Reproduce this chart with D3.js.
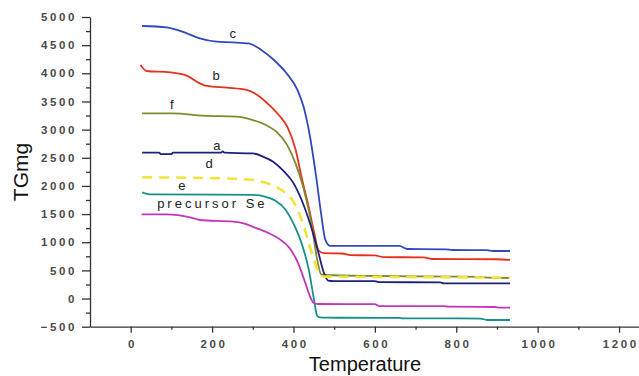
<!DOCTYPE html>
<html>
<head>
<meta charset="utf-8">
<script src="https://cdn.jsdelivr.net/npm/d3@7"></script>
<style>
  body { margin: 0; background: #fff; }
  svg { display: block; font-family: Arial, "Liberation Sans", sans-serif; }
  .tick text { font-weight: bold; fill: #4a4a4a; font-size: 11.5px; letter-spacing: 2.6px; }
  .axis path, .axis line { stroke: #333; stroke-width: 1.3; }
</style>
</head>
<body>
<svg id="chart" width="639" height="376"></svg>
<script>
// TG curves, [temperature, TG] pairs
var curveC = [[28,4840],[88,4817],[138,4710],[170,4620],[211,4562],[250,4550],[290,4530],[320,4420],[350,4250],[383,4000],[410,3700],[425,3400],[440,2900],[455,2200],[468,1500],[478,1050],[490,935],[660,935],[680,880],[775,875],[790,862],[875,860],[890,844],[932,844]];
var curveB = [[24,4147],[39,4041],[97,4018],[138,3958],[170,3822],[187,3775],[236,3744],[285,3704],[310,3620],[340,3440],[365,3250],[385,3050],[405,2650],[420,2150],[435,1700],[450,1200],[462,850],[475,805],[520,800],[540,772],[600,765],[620,737],[720,730],[740,702],[900,698],[932,686]];
var curveF = [[28,3290],[104,3290],[178,3247],[260,3230],[300,3170],[330,3090],[360,2950],[385,2720],[405,2400],[425,1950],[445,1300],[458,700],[468,430],[480,418],[600,400],[700,392],[860,385],[880,370],[932,365]];
var curveA = [[28,2590],[70,2590],[74,2565],[100,2565],[104,2590],[222,2590],[226,2615],[230,2590],[300,2578],[325,2520],[350,2430],[375,2270],[400,2050],[420,1750],[440,1350],[460,850],[475,450],[485,320],[500,311],[600,311],[610,290],[760,288],[770,270],[932,270]];
var curveD = [[28,2153],[220,2135],[300,2105],[330,2060],[355,1990],[380,1880],[400,1720],[420,1400],[437,1000],[452,650],[465,430],[475,390],[600,385],[932,372]];
var curveE = [[28,1887],[50,1850],[300,1840],[330,1810],[355,1740],[380,1580],[400,1330],[420,980],[438,500],[450,0],[458,-300],[465,-335],[480,-340],[660,-345],[670,-351],[860,-355],[875,-381],[932,-381]];
var curveP = [[27,1496],[88,1496],[146,1443],[170,1395],[252,1365],[280,1330],[310,1247],[340,1160],[365,1060],[390,900],[410,650],[428,300],[440,50],[450,-80],[460,-97],[600,-100],[610,-133],[770,-135],[780,-145],[895,-150],[905,-163],[932,-163]];

var seriesNames = ["c", "b", "f", "a", "d", "e", "precursor Se"];
var seriesColors = ["#3448bd", "#e8301e", "#7f8a2e", "#1f2078", "#f2e33a", "#17908a", "#c236b8"];
var seriesData = [curveC, curveB, curveF, curveA, curveD, curveE, curveP];
var labelPos = [[251,4716],[210,3970],[101,3455],[212,2727],[193,2407],[126,2016],[65,1697]];

var xTicks = [0, 200, 400, 600, 800, 1000, 1200];
var yTicks = [-500, 0, 500, 1000, 1500, 2000, 2500, 3000, 3500, 4000, 4500, 5000];

var svg = d3.select("#chart");
var x = d3.scaleLinear().domain([-100, 1250]).range([90, 639.4]);
var y = d3.scaleLinear().domain([-500, 5000]).range([326.7, 17]);

// minor ticks
svg.append("g").attr("class", "axis").attr("transform", "translate(" + x(-100) + ",0)")
  .call(d3.axisLeft(y).tickValues(d3.range(-250, 5000, 500)).tickSize(4).tickFormat(""))
  .select(".domain").remove();
svg.append("g").attr("class", "axis").attr("transform", "translate(0," + y(-500) + ")")
  .call(d3.axisBottom(x).tickValues(d3.range(100, 1300, 200)).tickSize(3).tickFormat(""))
  .select(".domain").remove();

svg.append("g").attr("class", "axis").attr("transform", "translate(" + x(-100) + ",0)")
  .call(d3.axisLeft(y).tickValues(yTicks).tickSize(8).tickSizeOuter(0).tickPadding(5).tickFormat(d3.format("d")));
svg.append("g").attr("class", "axis").attr("transform", "translate(0," + y(-500) + ")")
  .call(d3.axisBottom(x).tickValues(xTicks).tickSize(6).tickSizeOuter(0).tickPadding(7).tickFormat(d3.format("d")))
  .selectAll("text").attr("dx", "1.3px");

var line = d3.line()
  .x(function(d) { return x(d[0]); })
  .y(function(d) { return y(d[1]); })
  .curve(d3.curveMonotoneX);

svg.append("g").selectAll("path")
  .data(seriesData)
  .enter()
  .append("path")
  .attr("d", line)
  .attr("fill", "none")
  .attr("stroke", function(d, i) { return seriesColors[i]; })
  .attr("stroke-width", function(d, i) { return i == 4 ? 2.6 : 1.8; })
  .attr("stroke-dasharray", function(d, i) { return i == 4 ? "10,7" : null; });

svg.append("g").selectAll("text")
  .data(seriesNames)
  .enter()
  .append("text")
  .attr("x", function(d, i) { return x(labelPos[i][0]); })
  .attr("y", function(d, i) { return y(labelPos[i][1]); })
  .attr("dy", "0.35em")
  .attr("text-anchor", function(d, i) { return i == 6 ? "start" : "middle"; })
  .style("font-size", "13px")
  .style("letter-spacing", function(d, i) { return i == 6 ? "3px" : null; })
  .style("fill", "#222")
  .text(function(d) { return d; });

svg.append("text")
  .attr("x", 365).attr("y", 371)
  .attr("text-anchor", "middle")
  .style("font-size", "20px").style("fill", "#111")
  .text("Temperature");

svg.append("text")
  .attr("transform", "translate(28,172) rotate(-90)")
  .attr("text-anchor", "middle")
  .style("font-size", "21px").style("fill", "#111")
  .text("TGmg");
</script>
</body>
</html>
